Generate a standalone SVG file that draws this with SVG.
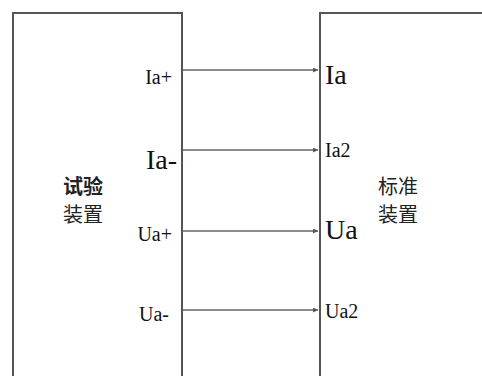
<svg xmlns="http://www.w3.org/2000/svg" width="482" height="376" viewBox="0 0 482 376">
<style>
.box{fill:none;stroke:#555;stroke-width:2}
.wire{stroke:#666;stroke-width:1.6;fill:none}
.lbl{font-family:"Liberation Serif","Times New Roman",serif;fill:#111}
.s{font-size:20px}
.b{font-size:28px}
.cn{font-family:"Noto Sans CJK SC",sans-serif;font-size:20px;fill:#222}
</style>
<defs>
<marker id="arr" viewBox="0 0 10 10" refX="10" refY="5" markerWidth="8" markerHeight="5" orient="auto" markerUnits="userSpaceOnUse">
<path d="M0,0 L10,5 L0,10 z" fill="#555"/>
</marker>
</defs>
<rect width="482" height="376" fill="#fff"/>
<g id="test-device">
<path class="box" d="M13,380 V13 H182 V380"/>
<text class="cn" x="83" y="194" text-anchor="middle" font-weight="bold">试验</text>
<text class="cn" x="83" y="222" text-anchor="middle">装置</text>
<text class="lbl s" x="172" y="84" text-anchor="end">Ia+</text>
<text class="lbl b" x="177" y="169" text-anchor="end">Ia-</text>
<text class="lbl s" x="172" y="241" text-anchor="end">Ua+</text>
<text class="lbl s" x="169" y="321" text-anchor="end">Ua-</text>
</g>
<g id="standard-device">
<path class="box" d="M320,380 V13 H485"/>
<text class="cn" x="398" y="194" text-anchor="middle">标准</text>
<text class="cn" x="398" y="222" text-anchor="middle">装置</text>
<text class="lbl b" x="325" y="84">Ia</text>
<text class="lbl s" x="325" y="157">Ia2</text>
<text class="lbl b" x="325" y="239">Ua</text>
<text class="lbl s" x="325" y="318">Ua2</text>
</g>
<g id="connectors">
<line class="wire" x1="183" y1="70" x2="318" y2="70" marker-end="url(#arr)"/>
<line class="wire" x1="183" y1="150" x2="318" y2="150" marker-end="url(#arr)"/>
<line class="wire" x1="183" y1="231" x2="318" y2="231" marker-end="url(#arr)"/>
<line class="wire" x1="183" y1="310" x2="318" y2="310" marker-end="url(#arr)"/>
</g>
</svg>
